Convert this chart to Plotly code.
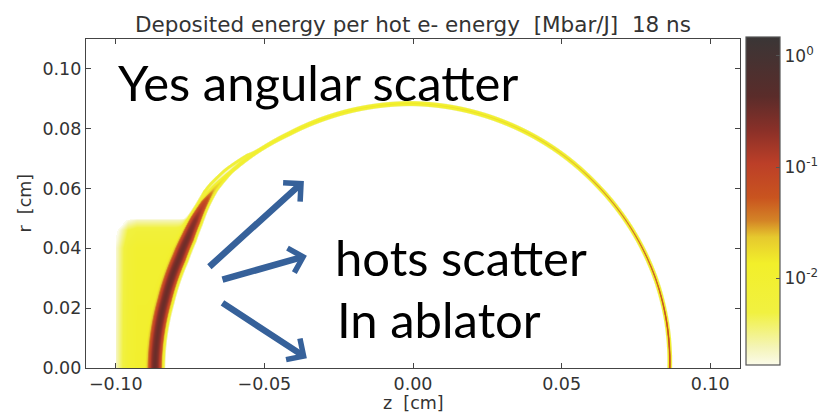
import numpy as np
import plotly.graph_objects as go

# ---- figure text ----
title_text = "Deposited energy per hot e- energy\u00a0\u00a0[Mbar/J]\u00a0\u00a018 ns"
x_label = "z\u00a0\u00a0[cm]"
y_label = "r\u00a0\u00a0[cm]"
x_tick_vals = [-0.10, -0.05, 0.00, 0.05, 0.10]
x_tick_text = ["\u22120.10", "\u22120.05", "0.00", "0.05", "0.10"]
y_tick_vals = [0.00, 0.02, 0.04, 0.06, 0.08, 0.10]
y_tick_text = ["0.00", "0.02", "0.04", "0.06", "0.08", "0.10"]
cbar_tick_vals = [-2, -1, 0]
cbar_tick_text = ["10<sup>-2</sup>", "10<sup>-1</sup>", "10<sup>0</sup>"]
log_range = [-2.78, 0.17]          # colour scale limits, log10(Mbar/J)

# ---- ablator shell along the polar angle (0 deg = +z, 180 deg = -z) ----
shell_theta_deg  = [0, 10, 20, 45, 70, 90, 110, 118, 126, 133, 138, 142, 146, 150, 155, 165, 180]
shell_radius_cm  = [0.0865, 0.0868, 0.0870, 0.0871, 0.0878, 0.0885, 0.0887, 0.0888, 0.0894,
                    0.0898, 0.0898, 0.0893, 0.0884, 0.0875, 0.0869, 0.0866, 0.0869]
# dense core of the deposition layer
core_peak_log10  = [-1.25, -1.3, -1.45, -1.75, -2.2, -2.4, -2.4, -2.4, -2.5,
                    -2.5, -1.9, -1.1, -0.7, -0.55, -0.5, -0.5, -0.5]
core_sigma_cm    = [0.00022, 0.00022, 0.00022, 0.00024, 0.00026, 0.00028, 0.00028, 0.00028,
                    0.00030, 0.00035, 0.00055, 0.00072, 0.00088, 0.00096, 0.00100, 0.00100, 0.00100]
# broader low-level skirt around the layer
skirt_peak_log10 = [-2.05, -2.05, -2.0, -2.0, -1.95, -1.95, -1.95, -2.0, -2.1,
                    -2.15, -2.0, -1.9, -1.8, -1.8, -1.8, -1.8, -1.8]
skirt_sigma_cm   = [0.00050, 0.00050, 0.00050, 0.00050, 0.00050, 0.00050, 0.00050, 0.00050,
                    0.00048, 0.00048, 0.00075, 0.00110, 0.00135, 0.00145, 0.00150, 0.00150, 0.00150]

# faint second front just outside the shell where it leaves the dense band
echo_theta_deg  = [124, 128, 134, 140, 145]
echo_offset_cm  = [0.0000, 0.0010, 0.0018, 0.0022, 0.0020]
echo_peak_log10 = [-3.5, -2.2, -2.1, -2.2, -3.5]
echo_sigma_cm = 0.00035

# ---- pre-heated region in front of the shell (z < 0 side only) ----
preheat_level_log10 = -1.95
preheat_z_edge_cm = -0.100
preheat_theta_deg     = [120, 135, 180]
preheat_theta_weight  = [0.0, 1.0, 1.0]
preheat_left_z_cm     = [-0.100, -0.098, -0.096, -0.093]
preheat_left_drop     = [0.7, 0.4, 0.12, 0.0]
preheat_top_r_cm      = [0.000, 0.040, 0.046, 0.0495, 0.0510, 0.0530]
preheat_top_drop      = [0.0, 0.05, 0.25, 0.7, 1.6, 4.0]

# ---- colour map (position on the log scale -> colour) ----
colorscale = [
    [0.000, "#fbfbea"], [0.055, "#f4f4b6"], [0.160, "#f1f140"], [0.310, "#f2ef2a"],
    [0.390, "#e6c92e"], [0.440, "#d48426"], [0.510, "#c9541f"], [0.615, "#bc3f28"],
    [0.715, "#8a3028"], [0.820, "#5a2c2a"], [1.000, "#3a3636"],
]

# ---- build the (z, r) field ----
x_range = [-0.11, 0.11]
y_range = [0.0, 0.11]
nz, nr = 654, 329
zc = np.linspace(x_range[0], x_range[1], nz)
rc = np.linspace(y_range[0], y_range[1], nr)
Z, R = np.meshgrid(zc, rc)
rho = np.hypot(Z, R)
theta = np.degrees(np.arctan2(R, Z))


def along(values):
    return np.interp(theta, shell_theta_deg, values)


dist = rho - along(shell_radius_cm)
field = (10.0 ** along(core_peak_log10) * np.exp(-0.5 * (dist / along(core_sigma_cm)) ** 2)
         + 10.0 ** along(skirt_peak_log10) * np.exp(-0.5 * (dist / along(skirt_sigma_cm)) ** 2))

echo_off = np.interp(theta, echo_theta_deg, echo_offset_cm)
echo_pk = np.interp(theta, echo_theta_deg, echo_peak_log10, left=-9, right=-9)
field += 10.0 ** echo_pk * np.exp(-0.5 * ((dist - echo_off) / echo_sigma_cm) ** 2)

pre_log = (preheat_level_log10
           - np.interp(Z, preheat_left_z_cm, preheat_left_drop)
           - np.interp(R, preheat_top_r_cm, preheat_top_drop))
outside = 1.0 / (1.0 + np.exp(-dist / 0.00025))
side = np.interp(theta, preheat_theta_deg, preheat_theta_weight)
field += np.where(Z >= preheat_z_edge_cm, 10.0 ** pre_log * outside * side, 0.0)

logf = np.log10(np.maximum(field, 1e-12))
logf = np.where(logf < log_range[0] - 0.05, np.nan, logf)

# ---- figure ----
fig = go.Figure()
fig.add_trace(go.Heatmap(
    x=zc, y=rc, z=logf,
    zmin=log_range[0], zmax=log_range[1],
    colorscale=colorscale, zsmooth=False, hoverinfo="skip",
    colorbar=dict(
        x=1.0092, xanchor="left", xpad=0,
        y=0.009, yanchor="bottom", ypad=0,
        len=328, lenmode="pixels",
        thickness=34, thicknessmode="pixels",
        outlinewidth=1.2, outlinecolor="#555555",
        tickvals=cbar_tick_vals, ticktext=cbar_tick_text,
        ticks="inside", ticklen=4, tickcolor="#555555",
        tickfont=dict(family="DejaVu Sans", size=17, color="#333333"),
    ),
))

axis_common = dict(
    showgrid=False, zeroline=False, showline=True, mirror="ticks",
    linecolor="#444444", linewidth=1.3, ticks="inside", ticklen=5,
    tickcolor="#444444", tickfont=dict(family="DejaVu Sans", size=17.5, color="#333333"),
)
fig.update_xaxes(range=x_range, tickvals=x_tick_vals, ticktext=x_tick_text, **axis_common)
fig.update_yaxes(range=y_range, tickvals=y_tick_vals, ticktext=y_tick_text, **axis_common)

# scattering arrows (tail -> head, in z/r coordinates)
arrow_tails = [(-0.0690, 0.0334), (-0.0646, 0.0294), (-0.0646, 0.0221)]
arrow_heads = [(-0.0367, 0.0625), (-0.0357, 0.0375), (-0.0357, 0.0033)]
annotations = []
for (tx, ty), (hx, hy) in zip(arrow_tails, arrow_heads):
    annotations.append(dict(
        x=hx, y=hy, ax=tx, ay=ty, xref="x", yref="y", axref="x", ayref="y",
        text="", showarrow=True, arrowhead=4, arrowsize=0.75, arrowwidth=6.5,
        arrowcolor="#36619a", standoff=0, startstandoff=0,
    ))

big_font = dict(family="Lato", size=49, color="#000000")
annotations += [
    dict(text="Yes angular scatter", x=(116 - 86) / 654, y=(368 - 82) / 329,
         xref="paper", yref="paper", xanchor="left", yanchor="middle",
         showarrow=False, font=big_font),
    dict(text="hots scatter", x=(333 - 86) / 654, y=(368 - 257) / 329,
         xref="paper", yref="paper", xanchor="left", yanchor="middle",
         showarrow=False, font=big_font),
    dict(text="In ablator", x=(335 - 86) / 654, y=(368 - 319) / 329,
         xref="paper", yref="paper", xanchor="left", yanchor="middle",
         showarrow=False, font=big_font),
    dict(text=title_text, x=0.5, y=(368 - 24) / 329, xref="paper", yref="paper",
         xanchor="center", yanchor="middle", showarrow=False,
         font=dict(family="DejaVu Sans", size=21.5, color="#333333")),
    dict(text=x_label, x=0.5, y=(368 - 403) / 329, xref="paper", yref="paper",
         xanchor="center", yanchor="middle", showarrow=False,
         font=dict(family="DejaVu Sans", size=17.5, color="#333333")),
    dict(text=y_label, x=(24 - 86) / 654, y=0.5, xref="paper", yref="paper",
         xanchor="center", yanchor="middle", showarrow=False, textangle=-90,
         font=dict(family="DejaVu Sans", size=17.5, color="#333333")),
]

fig.update_layout(
    width=821, height=417,
    margin=dict(l=86, r=81, t=39, b=49, autoexpand=False),
    paper_bgcolor="white", plot_bgcolor="white",
    showlegend=False, annotations=annotations,
)

fig.write_html("out.html")
